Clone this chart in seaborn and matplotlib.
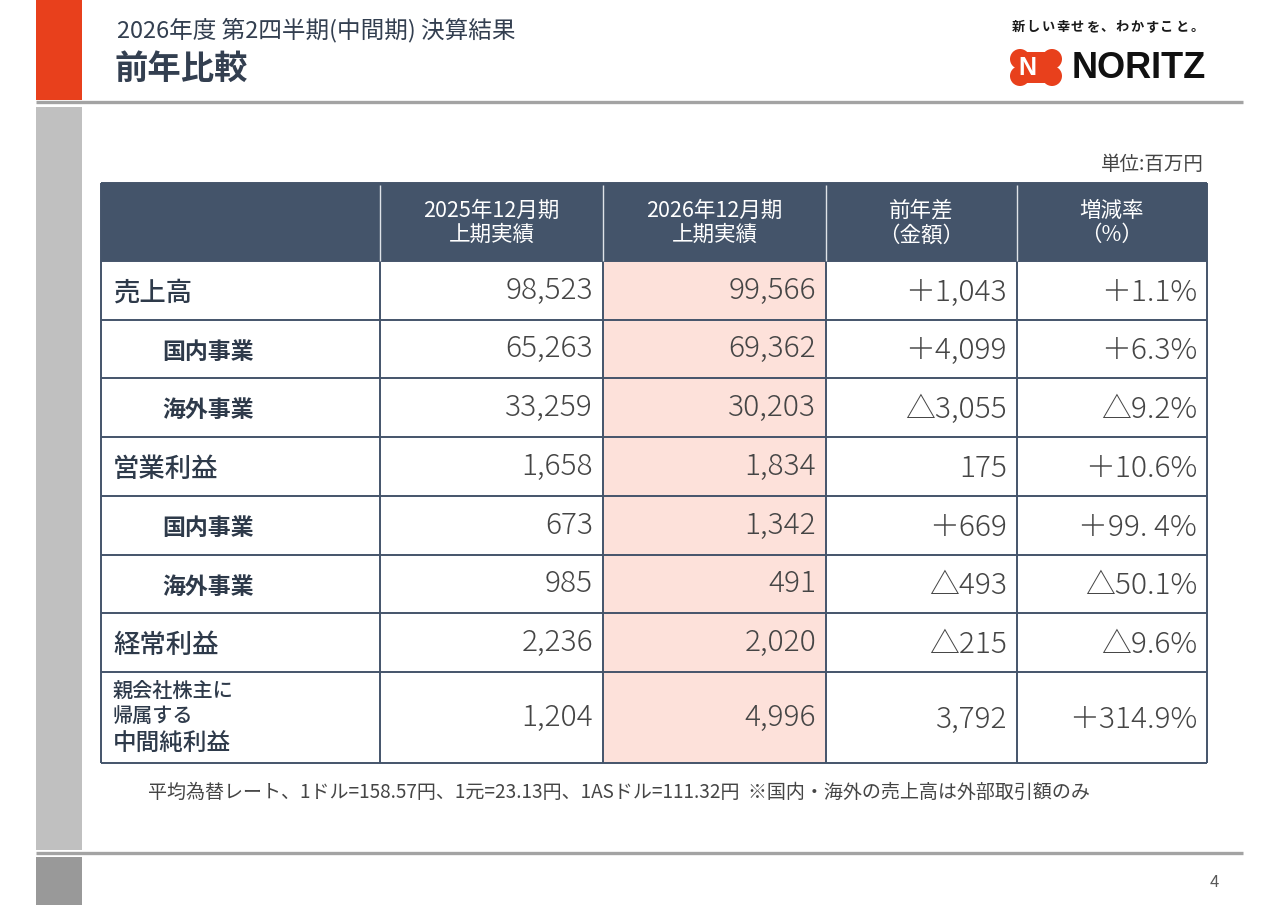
import numpy as np
import pandas as pd
import seaborn as sns
import matplotlib.pyplot as plt
from matplotlib.colors import ListedColormap
from matplotlib.patches import Rectangle, Circle

# --- data ---
row_labels = ["売上高", "国内事業", "海外事業", "営業利益", "国内事業", "海外事業",
              "経常利益", "親会社株主に\n帰属する\n中間純利益"]
row_level = [0, 1, 1, 0, 1, 1, 0, 0]
prev_h1 = [98523, 65263, 33259, 1658, 673, 985, 2236, 1204]
curr_h1 = [99566, 69362, 30203, 1834, 1342, 491, 2020, 4996]
yoy_diff = ["＋1,043", "＋4,099", "△3,055", "175", "＋669", "△493", "△215", "3,792"]
yoy_rate = ["＋1.1%", "＋6.3%", "△9.2%", "＋10.6%", "＋99. 4%", "△50.1%", "△9.6%", "＋314.9%"]
col_headers = ["", "2025年12月期\n上期実績", "2026年12月期\n上期実績", "前年差\n（金額）", "増減率\n（%）"]

df = pd.DataFrame({
    "label": row_labels,
    "prev": [f"{v:,}" for v in prev_h1],
    "curr": [f"{v:,}" for v in curr_h1],
    "diff": yoy_diff,
    "rate": yoy_rate,
})

# --- layout (pixels on a 1280x905 canvas) ---
col_edges = np.array([101, 380, 603, 826, 1017, 1207])
row_edges = np.array([183, 261, 320, 378, 437, 496, 555, 613, 672, 763])

HEAD = "#44546a"
PINK = "#fde1da"
LINE = "#44546a"
TXT = "#454545"
LAB = "#2e3a4a"

sns.set_theme(style="white")
plt.rcParams["font.family"] = ["Noto Sans CJK JP", "DejaVu Sans"]

fig = plt.figure(figsize=(12.8, 9.05), dpi=100)
ax = fig.add_axes([0, 0, 1, 1])
ax.set_xlim(0, 1280)
ax.set_ylim(905, 0)
ax.axis("off")

# page frame
ax.add_patch(Rectangle((36, 0), 46, 100, color="#e8401c", lw=0))
ax.add_patch(Rectangle((36, 107), 46, 743, color="#c0c0c0", lw=0))
ax.add_patch(Rectangle((36, 857), 46, 48, color="#999999", lw=0))
ax.hlines([102.5, 852.5], 36, 1243, color="#a3a3a3", lw=2.4)

ax.text(117, 30, "2026年度 第2四半期(中間期) 決算結果", fontsize=17,
        color="#333f50", va="center", ha="left")
ax.text(114, 69, "前年比較", fontsize=24, fontweight="bold",
        color="#333f50", va="center", ha="left")

# logo
tagline = "新しい幸せを、わかすこと。"
for k, ch in enumerate(tagline):
    ax.text(1018 + k * 14.9, 27, ch, fontsize=9.5, fontweight="bold",
            color="#1a1a1a", va="center", ha="center")
for cx, cy in [(1020, 59), (1020, 76), (1052, 59), (1052, 76)]:
    ax.add_patch(Circle((cx, cy), 10, color="#e8401c", lw=0))
ax.add_patch(Rectangle((1015, 52), 42, 31, color="#e8401c", lw=0))
ax.text(1027, 68, "N", fontsize=18, fontweight="bold", family="Liberation Sans",
        color="white", va="center", ha="center")
ax.text(1206, 68, "NORITZ", fontsize=26, fontweight="bold", family="Liberation Sans",
        color="#111111", va="center", ha="right")

ax.text(1204, 165, "単位:百万円", fontsize=14, color=TXT, va="center", ha="right")

# table cell fills
codes = np.zeros((len(df) + 1, len(col_headers)))
codes[0, :] = 2
codes[1:, 2] = 1
ax.pcolormesh(col_edges, row_edges, codes,
              cmap=ListedColormap(["white", PINK, HEAD]), vmin=0, vmax=2)

# grid lines
ax.hlines(row_edges[1:], col_edges[0], col_edges[-1], color=LINE, lw=1.4)
ax.hlines(row_edges[0], col_edges[0], col_edges[-1], color=HEAD, lw=1.4)
ax.vlines(col_edges[[0, -1]], row_edges[0], row_edges[-1], color=LINE, lw=1.4)
ax.vlines(col_edges[1:-1], row_edges[1], row_edges[-1], color=LINE, lw=1.4)
ax.vlines(col_edges[1:-1], row_edges[0] + 2, row_edges[1], color="#dfe3e8", lw=1.0)

# header text
for j, h in enumerate(col_headers):
    if not h:
        continue
    xc = (col_edges[j] + col_edges[j + 1]) / 2
    ax.text(xc, (row_edges[0] + row_edges[1]) / 2 + 1, h, fontsize=15.5, color="white",
            ha="center", va="center", linespacing=1.15)

# body text
value_cols = ["prev", "curr", "diff", "rate"]
for i, row in df.iterrows():
    y0, y1 = row_edges[i + 1], row_edges[i + 2]
    yc = (y0 + y1) / 2
    lines = row["label"].split("\n")
    if len(lines) == 1:
        if row_level[i] == 0:
            ax.text(113, yc + 3, lines[0], fontsize=19, color=LAB,
                    ha="left", va="center", fontweight="medium")
        else:
            ax.text(162, yc + 3, lines[0], fontsize=16.5, color=LAB,
                    ha="left", va="center", fontweight="bold")
    else:
        ys = [yc - 26, yc - 1, yc + 26]
        sizes = [14.5, 14.5, 17]
        for ln, yy, fs in zip(lines, ys, sizes):
            ax.text(113, yy, ln, fontsize=fs, color=LAB, ha="left",
                    va="center", fontweight="medium")
    for j, c in enumerate(value_cols):
        xr = col_edges[j + 2] - 10
        ax.text(xr, yc + (0 if j < 2 else 2), row[c], fontsize=21.5, color=TXT,
                ha="right", va="center", fontweight="light")

ax.text(148, 792, "平均為替レート、1ドル=158.57円、1元=23.13円、1ASドル=111.32円  ※国内・海外の売上高は外部取引額のみ",
        fontsize=13.7, color=TXT, ha="left", va="center")
ax.text(1219, 882, "4", fontsize=12, color="#595959", ha="right", va="center")

fig.savefig("out.png", dpi=100)
